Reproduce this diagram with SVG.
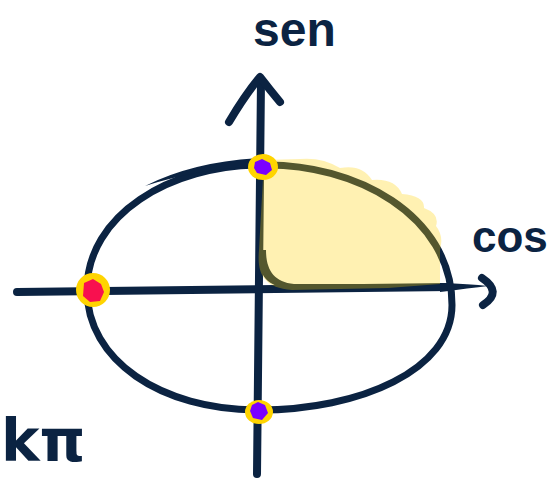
<svg xmlns="http://www.w3.org/2000/svg" width="559" height="482" viewBox="0 0 559 482">
<style>
.ink{fill:none;stroke:#0b2342;stroke-linecap:round;stroke-linejoin:round}
.lbl{font-family:"Liberation Sans",Arial,sans-serif;font-weight:bold;fill:#0b2342}
.ring{fill:#ffd400}
</style>
<rect width="559" height="482" fill="#ffffff"/>
<g id="axes">
<path class="ink" stroke-width="8" d="M17,292 L450,287"/>
<path fill="#0b2342" d="M440,283 Q470,284 488,286 Q470,288 440,292 Z"/>
<path class="ink" stroke-width="8" d="M482,278 Q503,292 483,305"/>
<path class="ink" stroke-width="8" d="M261,80 Q259,280 257,474"/>
<path class="ink" stroke-width="8" d="M229,122 Q245,95 260,77 Q270,90 280,102"/>
</g>
<g id="circle">
<path class="ink" stroke-width="7" d="M262,165 C355,163 452,215 452,305 C452,370 360,410 259,410 C160,410 87,360 87,290 C87,215 170,165 262,165 Z"/>
<path fill="#0b2342" d="M145,186 Q195,161 262,158 L262,166 Q200,168 145,186 Z"/>
</g>
<g id="shade">
<path fill="#0b2342" d="M259,250 C257,272 264,287 292,289 L388,290 L388,284 L294,284 C274,282 266,270 266,250 Z"/>
<path fill="#ffd000" fill-opacity="0.3" d="M264,160 L300,159 Q322,157 340,168 Q362,164 372,180 Q395,178 402,194 Q425,196 424,208 Q440,214 436,226 Q444,236 440,250 L440,284 L388,288 L292,290 C262,288 257,272 259,250 L264,160 Z"/>
</g>
<g id="p-top">
<ellipse class="ring" cx="263" cy="167" rx="15" ry="13"/>
<polygon fill="#7a00ff" points="255,162 262,159 270,163 272,170 266,175 257,173 254,168"/>
</g>
<g id="p-left">
<circle class="ring" cx="93" cy="290" r="17"/>
<polygon fill="#f8104f" points="84,283 93,279 101,284 104,292 100,301 90,302 83,296"/>
</g>
<g id="p-bottom">
<ellipse class="ring" cx="259" cy="412" rx="14" ry="12"/>
<polygon fill="#7a00ff" points="252,405 258,402 265,405 268,413 262,420 253,418 250,411"/>
</g>
<g id="labels">
<text class="lbl" x="253" y="46" font-size="48">sen</text>
<text class="lbl" x="472" y="252" font-size="44">cos</text>
<text class="lbl" x="1" y="461" font-size="58" style="font-family:'DejaVu Sans',sans-serif">kπ</text>
</g>
</svg>
